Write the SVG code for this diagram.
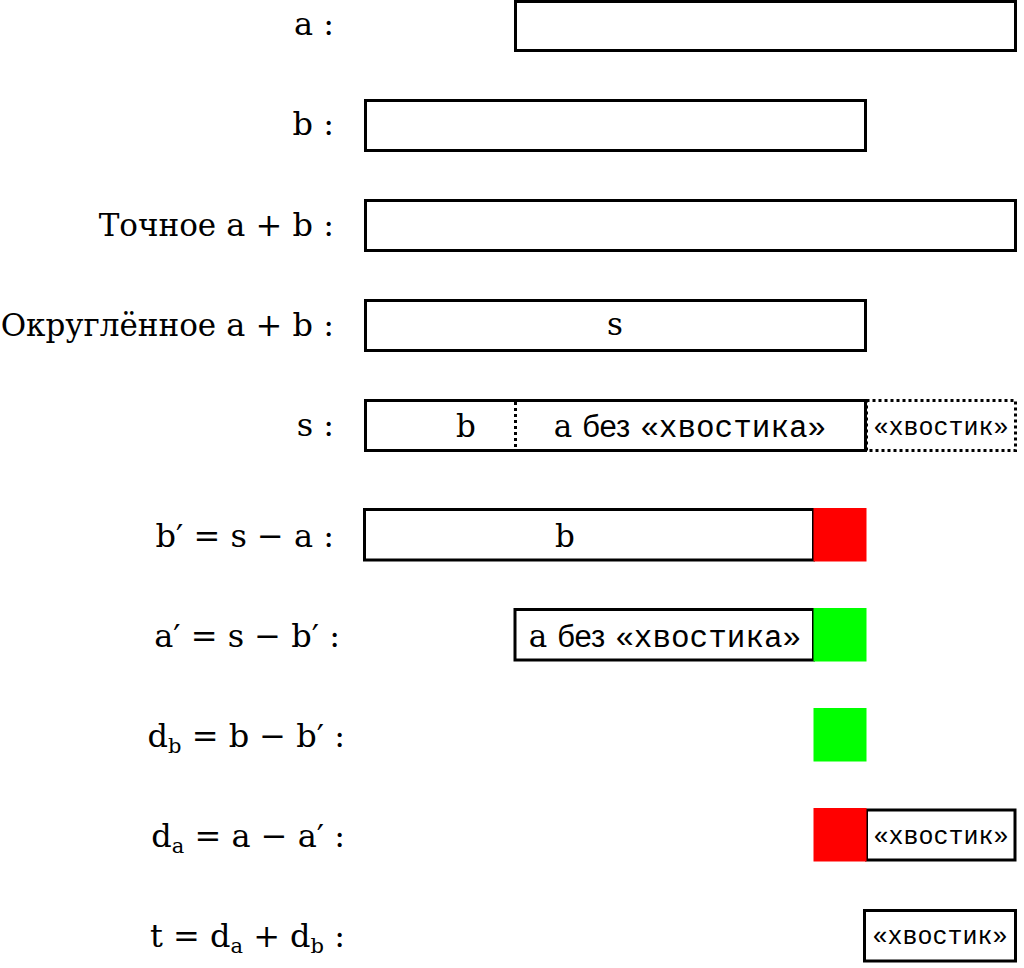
<svg xmlns="http://www.w3.org/2000/svg" width="1024" height="968" viewBox="0 0 1024 968">
<style>
.box{fill:#fff;stroke:#000;stroke-width:3}
.dot{fill:none;stroke:#000;stroke-width:3;stroke-dasharray:3 3}
.lbl{font-family:"DejaVu Serif","Liberation Serif",serif;font-size:32px;fill:#000;text-anchor:end}
.cy{font-size:31px}
.m{font-family:"DejaVu Serif","Liberation Serif",serif;font-size:31px;fill:#000}
.sans{font-family:"Liberation Sans",sans-serif}
.mono{font-family:"Liberation Mono","DejaVu Sans Mono",monospace}
.tail{font-family:"Liberation Mono","DejaVu Sans Mono",monospace;font-size:25px;fill:#000;text-anchor:middle}
.sub{font-size:21px}
.red{fill:#ff0000}
.green{fill:#00ff00}
</style>
<rect width="1024" height="968" fill="#fff"/>
<g id="row-a">
<text class="lbl" x="334" y="35">a :</text>
<rect class="box" x="515.5" y="1.5" width="500" height="49"/>
</g>
<g id="row-b">
<text class="lbl" x="334" y="135">b :</text>
<rect class="box" x="365.5" y="100.5" width="500" height="50"/>
</g>
<g id="row-exact">
<text class="lbl" x="334" y="236"><tspan class="cy">Точное</tspan> a + b :</text>
<rect class="box" x="365.5" y="200.5" width="650" height="50"/>
</g>
<g id="row-rounded">
<text class="lbl" x="334" y="336"><tspan class="cy">Округлённое</tspan> a + b :</text>
<rect class="box" x="365.5" y="300.5" width="500" height="50"/>
<text class="m" x="615" y="335" text-anchor="middle">s</text>
</g>
<g id="row-s">
<text class="lbl" x="334" y="436">s :</text>
<rect class="box" x="365.5" y="400.5" width="500" height="50"/>
<line class="dot" x1="515.5" y1="402" x2="515.5" y2="449"/>
<rect class="dot" x="866.5" y="400.5" width="149" height="50"/>
<text class="m" x="466" y="437" text-anchor="middle">b</text>
<text class="m" x="690" y="437" text-anchor="middle">a <tspan class="sans">без</tspan> <tspan class="mono">«хвостика»</tspan></text>
<text class="tail" x="941" y="435">«хвостик»</text>
</g>
<g id="row-bprime">
<text class="lbl" x="334" y="547">b′ = s − a :</text>
<rect class="box" x="364.5" y="509.5" width="449" height="50.5"/>
<rect class="red" x="813.5" y="508" width="53" height="53.5"/>
<text class="m" x="565" y="547" text-anchor="middle">b</text>
</g>
<g id="row-aprime">
<text class="lbl" x="340" y="647">a′ = s − b′ :</text>
<rect class="box" x="515" y="609.5" width="298.5" height="50.5"/>
<rect class="green" x="813.5" y="608" width="53" height="53.5"/>
<text class="m" x="665" y="647" text-anchor="middle">a <tspan class="sans">без</tspan> <tspan class="mono">«хвостика»</tspan></text>
</g>
<g id="row-db">
<text class="lbl" x="345" y="747">d<tspan class="sub" dy="6">b</tspan><tspan dy="-6"> = b − b′ :</tspan></text>
<rect class="green" x="813.5" y="708" width="53" height="53.5"/>
</g>
<g id="row-da">
<text class="lbl" x="345" y="847">d<tspan class="sub" dy="6">a</tspan><tspan dy="-6"> = a − a′ :</tspan></text>
<rect class="box" x="866.5" y="810" width="148.5" height="50"/>
<rect class="red" x="813.5" y="808" width="53" height="53.5"/>
<text class="tail" x="941" y="844">«хвостик»</text>
</g>
<g id="row-t">
<text class="lbl" x="345" y="947">t = d<tspan class="sub" dy="6">a</tspan><tspan dy="-6"> + d</tspan><tspan class="sub" dy="6">b</tspan><tspan dy="-6"> :</tspan></text>
<rect class="box" x="864.5" y="910.5" width="151" height="50.5"/>
<text class="tail" x="940" y="944">«хвостик»</text>
</g>
<g id="connectors"/>
</svg>
